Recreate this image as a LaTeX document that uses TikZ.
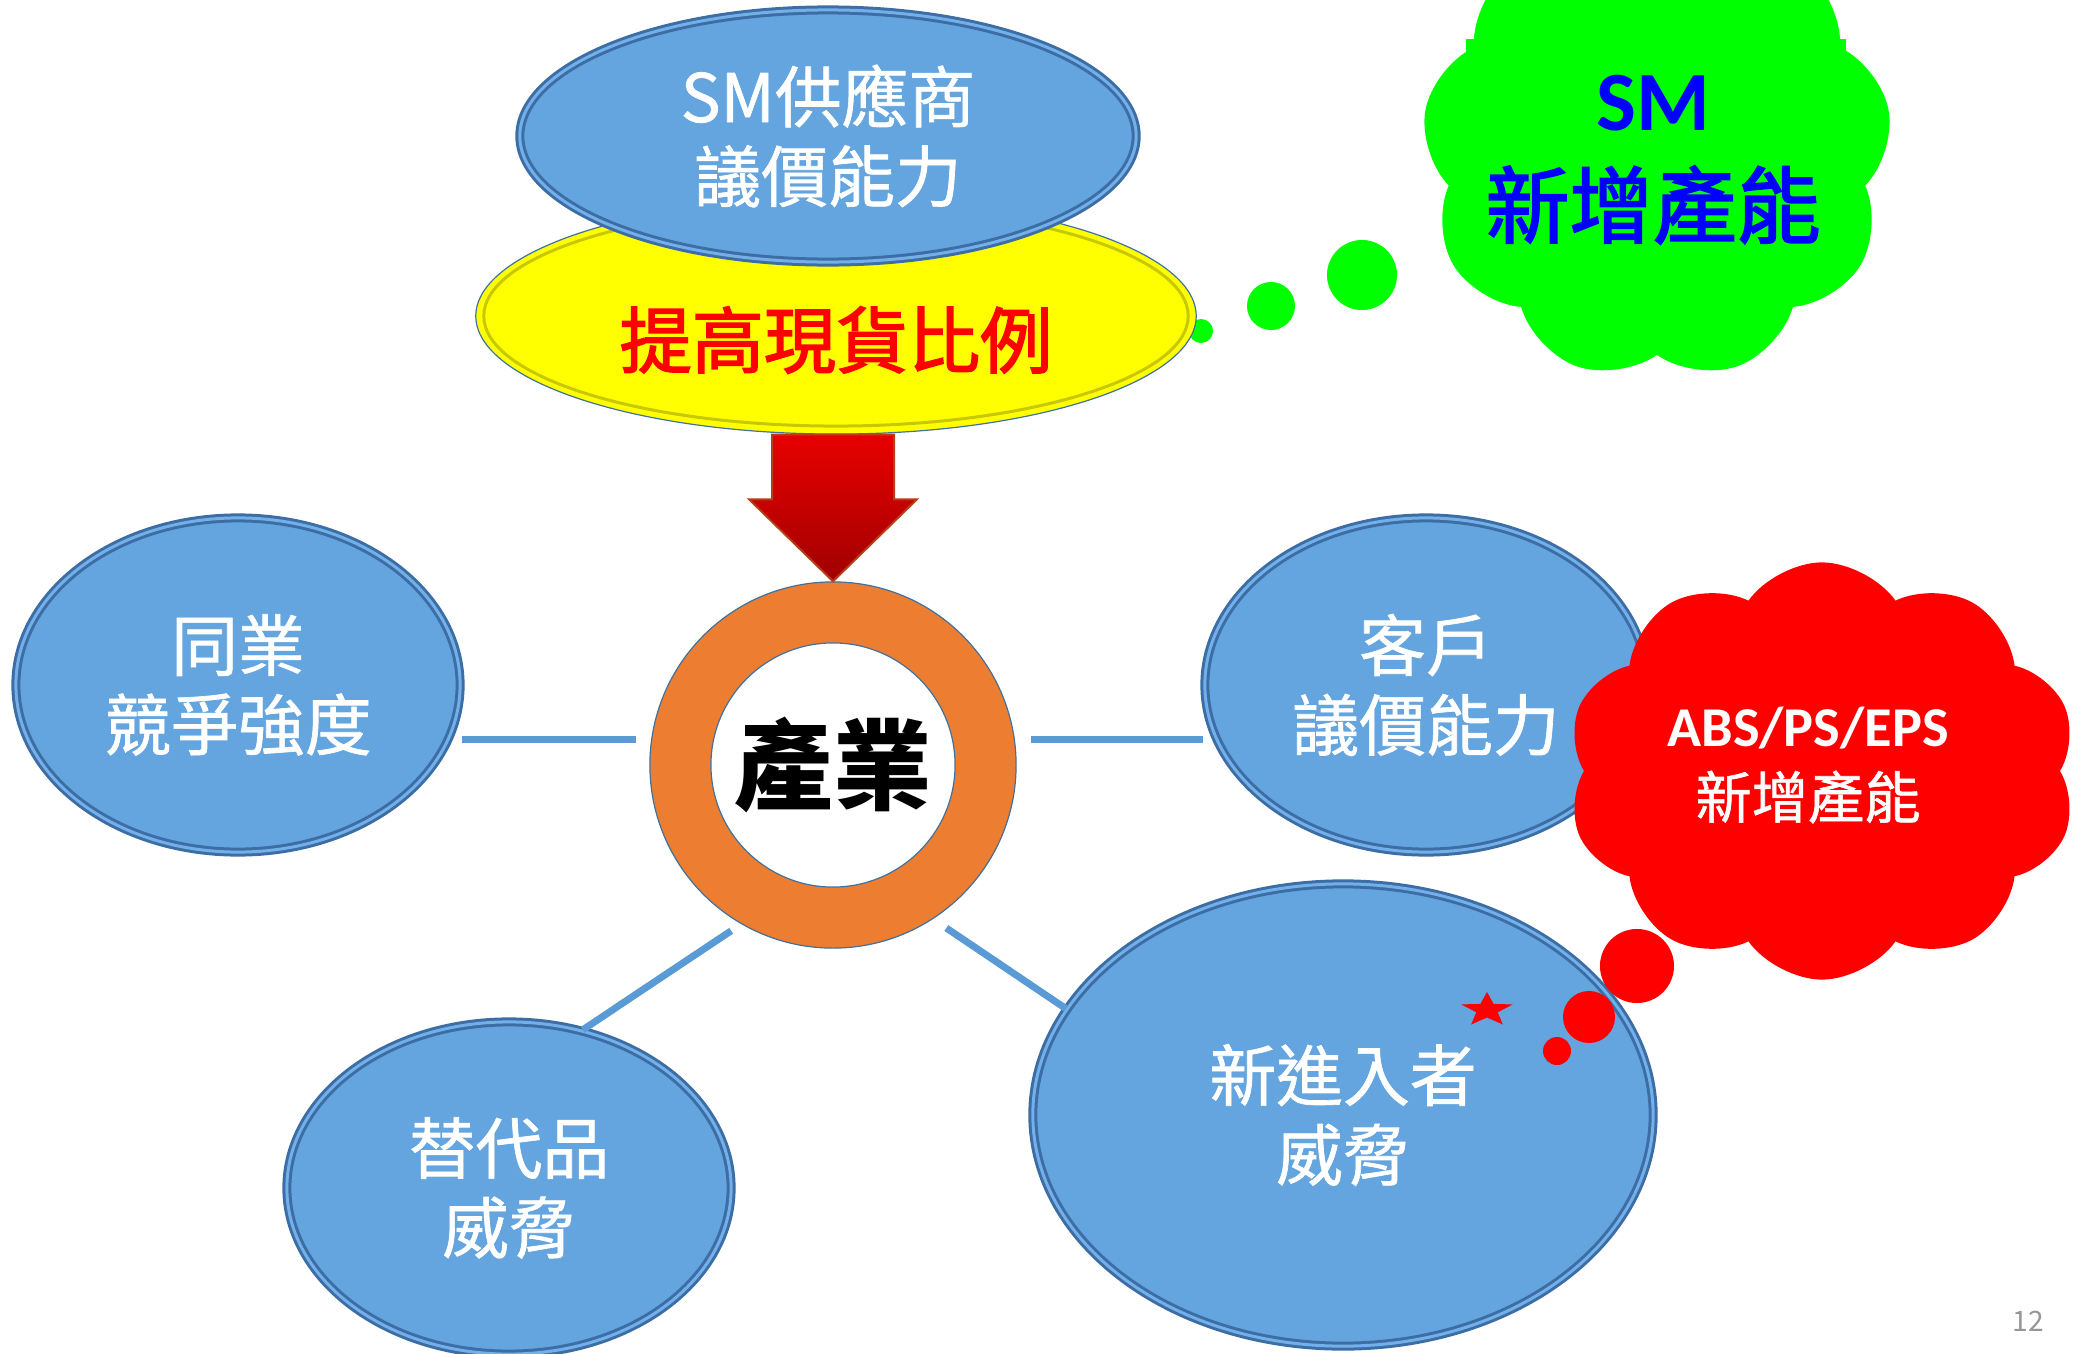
\documentclass[tikz,border=0pt]{standalone}
\usepackage{fontspec}
\setmainfont{Noto Sans CJK TC}
\newfontfamily\calibri{Carlito}
\newfontfamily\cjkmid[FakeBold=1]{Noto Sans CJK TC}
\newfontfamily\cjkheavy[FakeBold=2.2]{Noto Sans CJK TC}
\usetikzlibrary{calc, shapes.geometric, shapes.symbols}

\definecolor{bubbleblue}{RGB}{100,165,223}
\definecolor{bevelblue}{RGB}{60,110,165}
\definecolor{bevellight}{RGB}{115,175,232}
\definecolor{linkblue}{RGB}{91,155,213}
\definecolor{edgeblue}{RGB}{65,113,156}
\definecolor{ringorange}{RGB}{237,125,49}
\definecolor{spotyellow}{RGB}{255,255,0}
\definecolor{spotolive}{RGB}{200,200,0}
\definecolor{arrowtop}{RGB}{232,0,0}
\definecolor{arrowbot}{RGB}{160,0,0}
\definecolor{arrowedge}{RGB}{185,60,20}
\definecolor{cloudgreen}{RGB}{0,255,0}
\definecolor{cloudred}{RGB}{255,0,0}
\definecolor{pagegray}{RGB}{150,150,150}

\tikzset{
  force/.style={ellipse, fill=bubbleblue, draw=bevelblue, double=bevellight,
    double distance=0.03cm, line width=0.03cm, inner sep=0pt, text=white,
    align=center, font=\cjkmid\fontsize{19}{22.6}\selectfont},
  link/.style={linkblue, line width=0.07cm},
  puff/.style={cloud, cloud ignores aspect, inner sep=0pt},
}

\begin{document}
\begin{tikzpicture}[x=0.01cm, y=-0.01cm]
    \useasboundingbox (0,0) rectangle (2074,1354);
    \clip (0,0) rectangle (2074,1354);

    % green thought cloud
    \foreach \x/\y/\r in {1362/275/0.35, 1271/306/0.24, 1201/331/0.12}
        \fill[cloudgreen] (\x,\y) circle (\r cm);
    \node[puff, cloud puffs=9, cloud puff arc=110, fill=cloudgreen, minimum width=4.7cm, minimum height=4.6cm] (greencloud) at (1657,150) {};
    \node[fill=cloudgreen, minimum width=3.8cm, minimum height=2.25cm] (smbox) at (1656,152) {};
    \node[text=blue, font=\calibri\bfseries\fontsize{24}{26}\selectfont] (smtag) at (1653,103) {SM};
    \node[text=blue, font=\cjkheavy\fontsize{23.8}{26}\selectfont] (smcap) at (1653,205) {新增產能};

    % supplier
    \node[ellipse, fill=spotyellow, draw=edgeblue, line width=0.012cm, minimum width=7.2cm, minimum height=2.36cm, inner sep=0pt] (spot) at (836,316) {};
    \draw[spotolive, line width=0.03cm] (spot.center) ellipse [x radius=3.52cm, y radius=1.10cm];
    \node[text=red, font=\cjkheavy\fontsize{20.5}{24}\selectfont] (spottext) at (836,340) {提高現貨比例};
    \node[force, minimum width=6.16cm, minimum height=2.52cm] (supplier) at (828,136) {SM供應商\\議價能力};

    % industry ring
    \node[circle, fill=ringorange, draw=edgeblue, line width=0.012cm, minimum size=3.66cm, inner sep=0pt] (ring) at (833,765) {};
    \node[circle, fill=white, draw=edgeblue, line width=0.012cm, minimum size=2.44cm, inner sep=0pt, font=\bfseries\fontsize{28}{30}\selectfont] (core) at (ring.center) {產業};

    \shade[top color=arrowtop, bottom color=arrowbot, draw=arrowedge, line width=0.02cm]
        ($(ring.north |- spot.south)+(-61,0)$) -- ($(ring.north |- spot.south)+(61,0)$)
        -- ($(ring.north)+(61,-82)$) -- ($(ring.north)+(84,-82)$) -- (ring.north)
        -- ($(ring.north)+(-84,-82)$) -- ($(ring.north)+(-61,-82)$) -- cycle;

    % other forces
    \node[force, minimum width=4.44cm, minimum height=3.34cm] (rival) at (238,685) {同業\\競爭強度};
    \node[force, minimum width=4.42cm, minimum height=3.34cm] (buyer) at (1426,685) {客戶\\議價能力};
    \node[force, minimum width=4.44cm, minimum height=3.32cm] (substitute) at (509,1188) {替代品\\威脅};
    \node[force, minimum width=6.2cm, minimum height=4.62cm] (entrant) at (1343,1115) {新進入者\\威脅};

    \draw[link, shorten <=0.15cm] (ring.172) -- (ring.172 -| rival.east);
    \draw[link, shorten <=0.16cm] (ring.8) -- (ring.8 -| buyer.west);
    \draw[link, shorten <=0.12cm] (ring.240) -- (substitute.65);
    \draw[link, shorten <=0.16cm] (ring.303) -- (entrant.159);

    % red thought cloud
    \node[puff, cloud puffs=10, cloud puff arc=110, fill=cloudred, minimum width=5.1cm, minimum height=4.17cm] (redcloud) at (1822,771) {};
    \foreach \x/\y/\r in {1637/966/0.37, 1589/1017/0.26, 1557/1051/0.14}
        \fill[cloudred] (\x,\y) circle (\r cm);
    \node[text=white, font=\calibri\bfseries\fontsize{16}{18}\selectfont] (abs) at (1808,728) {ABS/PS/EPS};
    \node[text=white, font=\cjkmid\fontsize{16}{18}\selectfont] (abscap) at (1808,797) {新增產能};
    \node[star, star points=5, star point ratio=2.4, fill=cloudred, inner sep=0pt, minimum size=0.36cm, xscale=1.5, transform shape] (redstar) at (1487,1010) {};

    \node[text=pagegray, font=\fontsize{8}{9}\selectfont] (pageno) at (2028,1321) {12};
\end{tikzpicture}
\end{document}
